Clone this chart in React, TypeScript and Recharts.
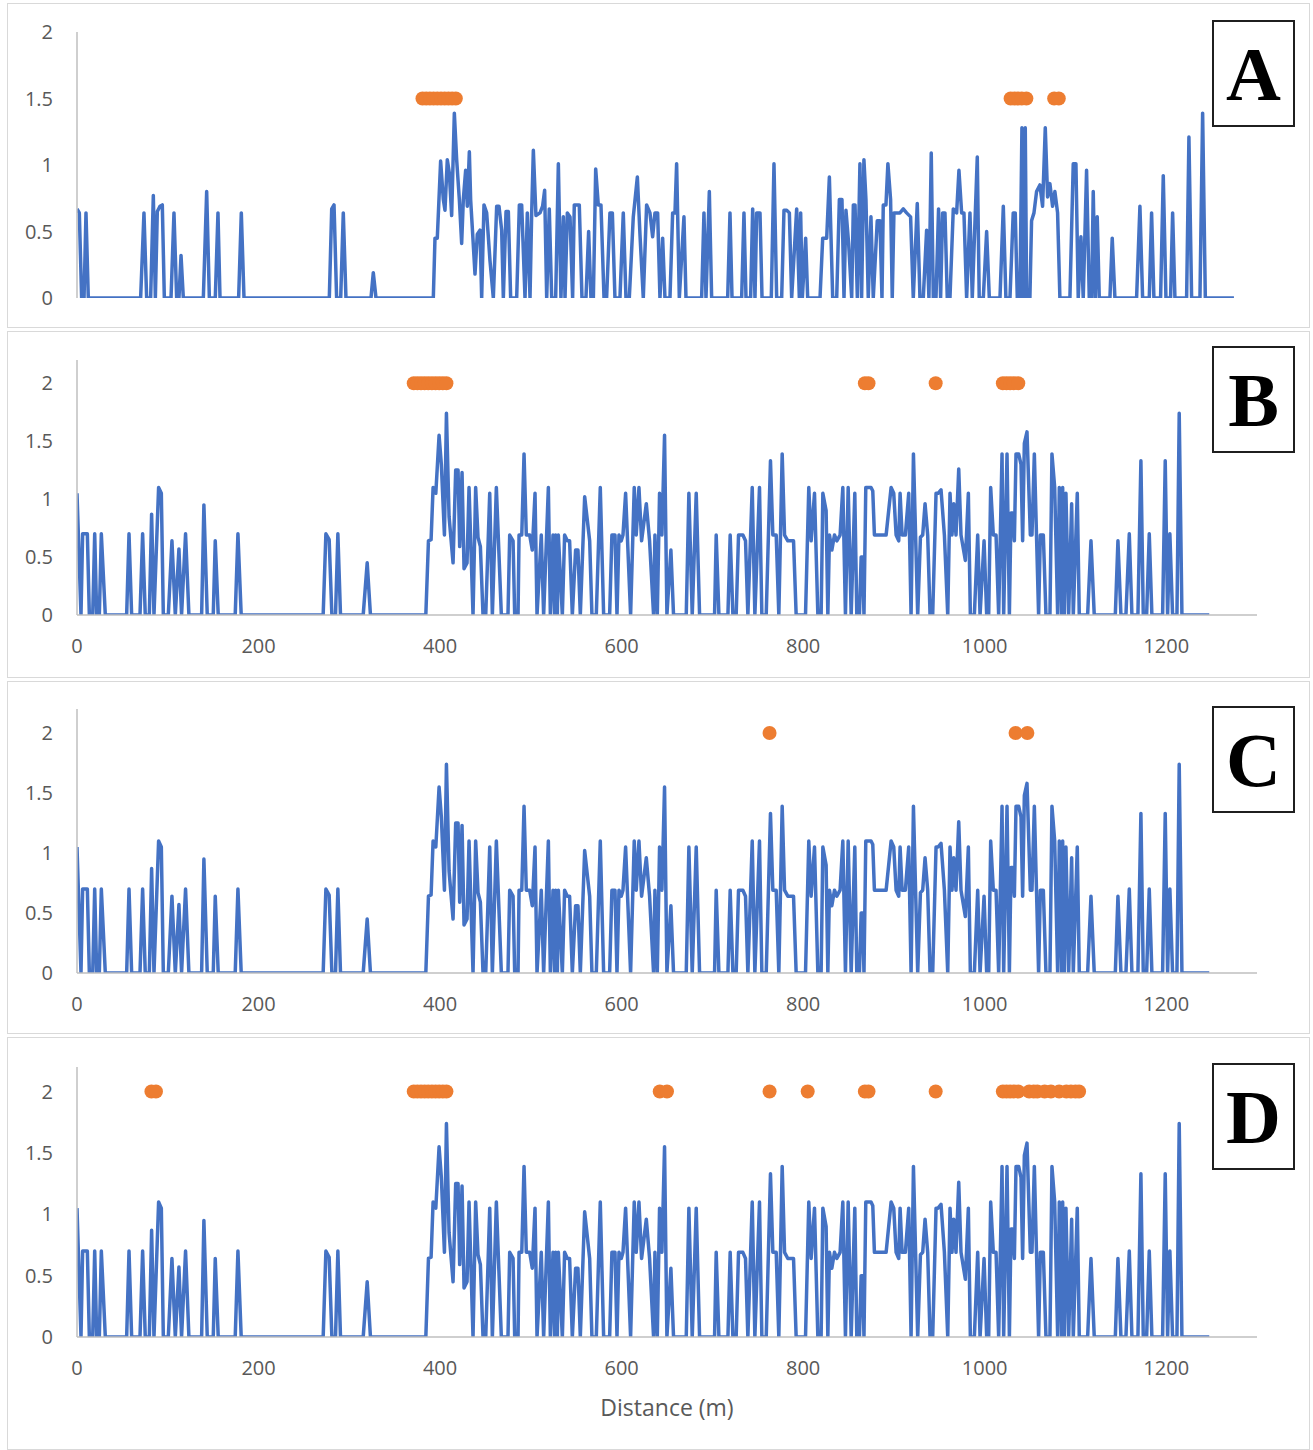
import React from "react";
import { ComposedChart, Line, Scatter, XAxis, YAxis } from "recharts";

const profileA: [number, number][] = [
  [0, 0.67], [2.5, 0.64], [5, 0], [7.6, 0], [9.7, 0.64], [12.2, 0], [68.7, 0], [72.3, 0.64], [75.2, 0],
  [79.5, 0], [82.4, 0.77], [84.6, 0], [86.7, 0.65], [89.6, 0.69], [92.1, 0.7], [94.3, 0], [101.5, 0],
  [104.7, 0.64], [107.6, 0], [110.1, 0], [112.3, 0.32], [114.8, 0], [136.4, 0], [140, 0.8], [142.9, 0],
  [149.3, 0], [152.2, 0.64], [154.4, 0], [174.5, 0], [177.4, 0.64], [180.3, 0], [272.4, 0], [275, 0.67],
  [277.5, 0.7], [280.3, 0], [284.7, 0], [287.5, 0.64], [290.4, 0], [317.4, 0], [319.9, 0.19], [322.8, 0],
  [384.7, 0], [386.5, 0.45], [389, 0.45], [392.6, 1.03], [395.5, 0.74], [397.3, 0.66], [399.8, 1.04],
  [402, 0.94], [404.5, 0.62], [407.4, 1.39], [409.9, 1.04], [412.8, 0.74], [415.3, 0.41], [417.1, 0.74],
  [419.6, 0.96], [421.4, 0.69], [423.6, 1.1], [425, 0.74], [427.2, 0.48], [429.7, 0.18], [432.2, 0.48],
  [435.1, 0.51], [436.9, 0], [439.4, 0.7], [442.3, 0.64], [445.9, 0.28], [449.5, 0], [453.1, 0.69],
  [455.6, 0.69], [458.5, 0.51], [460.3, 0], [463.2, 0.65], [465.7, 0.65], [468.2, 0], [474.7, 0],
  [477.6, 0.7], [480.1, 0.7], [483.7, 0], [486.2, 0.64], [489.1, 0], [490.9, 0.64], [492.7, 1.11],
  [495.5, 0.62], [499.9, 0.64], [502.7, 0.69], [504.9, 0.81], [507.1, 0], [509.9, 0.67], [512.5, 0],
  [516.8, 0], [519.7, 1.01], [522.5, 0], [525.1, 0.61], [526.9, 0], [529.4, 0.64], [532.3, 0.61],
  [535.1, 0], [536.9, 0.7], [542.3, 0.7], [545.2, 0], [549.5, 0], [552.4, 0.5], [554.9, 0], [557.5, 0],
  [560, 0.97], [562.8, 0.7], [565.7, 0.7], [569, 0], [571.8, 0], [575.4, 0.64], [578, 0.64], [580.8, 0],
  [586.2, 0], [589.8, 0.64], [592.7, 0], [596.3, 0], [600.6, 0.61], [605, 0.91], [607.8, 0.48],
  [611.4, 0], [615, 0.7], [618.6, 0.64], [621.5, 0.46], [624, 0.64], [626.9, 0.64], [629.4, 0],
  [632.3, 0.45], [634.8, 0], [640.2, 0], [643.1, 0.64], [645.6, 0.64], [647.4, 1.01], [650.3, 0],
  [655.3, 0.61], [657.5, 0], [674.4, 0], [676.9, 0.64], [679.1, 0], [682.7, 0.8], [685.2, 0], [702.5, 0],
  [705, 0.64], [707.2, 0], [717.6, 0], [720.1, 0.64], [722.3, 0], [727.3, 0], [729.5, 0.67], [732, 0],
  [733.8, 0.64], [737.4, 0.64], [739.6, 0], [749.6, 0], [752.5, 1.01], [755.4, 0], [760.8, 0],
  [763.3, 0.66], [766.2, 0.66], [769.1, 0.64], [771.6, 0], [777, 0.67], [779.9, 0], [781.3, 0.64],
  [783.1, 0], [786.7, 0.45], [788.9, 0], [802.2, 0], [805.1, 0.45], [809.4, 0.45], [812.3, 0.91],
  [815.9, 0], [820.2, 0], [823.1, 0.74], [825.9, 0.74], [828.1, 0], [830.2, 0.66], [833.1, 0.41],
  [836.4, 0], [838.2, 0.7], [840, 0.7], [842.5, 0], [845.3, 1.01], [847.1, 0], [849.6, 1.04],
  [851.8, 0.74], [854.3, 0], [857.2, 0.61], [859.7, 0], [864, 0.58], [866.9, 0.58], [869.1, 0],
  [870.5, 0.7], [873.4, 0.7], [875.5, 1.01], [878.4, 0.74], [880.2, 0], [882, 0.64], [888.5, 0.64],
  [892.1, 0.67], [895.7, 0.64], [900, 0.61], [902.9, 0], [907.2, 0.71], [910.1, 0], [913.7, 0],
  [917.3, 0.51], [919.8, 0], [922.3, 1.09], [924.5, 0], [927.4, 0], [930.2, 0.67], [932.4, 0],
  [934.6, 0.64], [937.1, 0.64], [939.6, 0], [942.5, 0], [946.1, 0.67], [949.7, 0.64], [952.2, 0.96],
  [955.1, 0.64], [957.6, 0.64], [960.5, 0], [964.1, 0.64], [966.6, 0], [972, 1.06], [974.1, 0],
  [978.5, 0], [982.1, 0.5], [985, 0], [996.5, 0], [1000.1, 0.69], [1002.9, 0], [1007.3, 0],
  [1010.8, 0.64], [1013, 0.64], [1015.2, 0], [1018, 0], [1020.2, 1.28], [1021.6, 0], [1023.8, 1.28],
  [1025.3, 0], [1028.8, 0], [1030.6, 0.58], [1033.2, 0.64], [1036, 0.8], [1039.6, 0.85], [1042.5, 0.69],
  [1045.4, 1.28], [1047.9, 0.76], [1050.4, 0.86], [1053.3, 0.69], [1055.8, 0.8], [1058.7, 0.64],
  [1061.2, 0], [1072, 0], [1075.6, 1.01], [1078.5, 1.01], [1081, 0], [1083.9, 0.46], [1086.4, 0],
  [1090, 0.96], [1092.9, 0], [1095.4, 0], [1097.2, 0.8], [1099.4, 0], [1101.5, 0.61], [1103.7, 0],
  [1115.2, 0], [1117.7, 0.45], [1120.6, 0], [1144, 0], [1147.6, 0.69], [1150.5, 0], [1157.7, 0],
  [1160.2, 0.64], [1162.7, 0], [1169.9, 0], [1172.8, 0.92], [1175.7, 0], [1180.7, 0], [1182.9, 0.64],
  [1185.4, 0], [1198, 0], [1200.5, 1.21], [1203.4, 0], [1212.4, 0], [1215.3, 1.39], [1218.2, 0],
  [1249.1, 0],
];

// blue trace shared by panels B, C and D
const profileBCD: [number, number][] = [
  [0, 1.05], [4.4, 0], [6.2, 0.7], [11.4, 0.7], [13.6, 0], [17.3, 0], [19.5, 0.7], [21.7, 0], [24.6, 0],
  [26.8, 0.7], [31.2, 0], [54.7, 0], [57.3, 0.7], [60.2, 0], [69.4, 0], [72.3, 0.7], [75.2, 0], [79.7, 0],
  [82.2, 0.87], [84.8, 0], [89.9, 1.1], [92.9, 1.05], [95.1, 0], [100.6, 0], [104.6, 0.64], [108.3, 0],
  [112.3, 0.57], [115.2, 0], [119.6, 0.7], [123.3, 0], [137.3, 0], [139.8, 0.95], [143.5, 0], [150.1, 0],
  [152.3, 0.64], [155.6, 0], [174.3, 0], [177.3, 0.7], [180.9, 0], [271.2, 0], [274.2, 0.7], [277.8, 0.65],
  [280.8, 0], [284.8, 0], [287.4, 0.7], [290.3, 0], [315.3, 0], [319.7, 0.45], [323.3, 0], [384.3, 0],
  [387.2, 0.64], [390.1, 0.65], [392.3, 1.1], [395.3, 1.05], [398.9, 1.55], [401.4, 1.3], [404.8, 0.69],
  [407, 1.74], [409.9, 0.85], [414.3, 0.45], [417.2, 1.25], [419.8, 1.25], [421.6, 0.59], [424.2, 1.23],
  [426.4, 0.4], [429.7, 0.45], [431.9, 1.1], [436.3, 0], [439.2, 1.1], [441.8, 0.67], [444.4, 0.59],
  [447.3, 0], [450.3, 0], [454.7, 1.05], [457.6, 0], [462, 1.1], [467.5, 0], [474.8, 0], [476.7, 0.69],
  [480.4, 0.64], [482.2, 0], [485.9, 0], [487, 0.69], [490, 0.69], [492.5, 1.39], [495, 0.69],
  [498.7, 0.69], [501.6, 0.56], [504.6, 1.05], [506.8, 0], [511.5, 0.69], [514.1, 0], [519.3, 1.1],
  [521.5, 0], [524.4, 0.69], [526.2, 0], [527.3, 0.69], [529.2, 0], [530.3, 0.69], [534.7, 0],
  [537.2, 0.69], [540.2, 0.64], [542.7, 0.64], [545.7, 0], [549.3, 0.56], [551.9, 0.56], [554.5, 0],
  [559.3, 1.02], [564.8, 0.64], [567.3, 0], [572.1, 0], [576.5, 1.1], [580.2, 0], [586.8, 0],
  [589.3, 0.69], [592.7, 0.69], [594.9, 0], [597.1, 0.69], [599.6, 0.64], [601.5, 0.69], [604.4, 1.05],
  [609.9, 0], [613.9, 1.1], [616.1, 0.69], [619.1, 1.1], [622, 0.64], [627.2, 0.96], [630.8, 0.64],
  [635.2, 0], [636.7, 0.69], [639.3, 0], [641.8, 1.05], [644.4, 0.69], [647.3, 1.55], [649.9, 0],
  [654.3, 0.56], [657.2, 0], [671.2, 0], [674.1, 1.05], [677.8, 0], [682.2, 1.05], [685.9, 0], [702.4, 0],
  [704.2, 0.69], [707.2, 0], [717.1, 0], [719.6, 0.69], [722.6, 0], [726.2, 0], [728.8, 0.69],
  [733.6, 0.69], [736.5, 0.64], [739.1, 0], [743.9, 1.1], [746.8, 0], [751.9, 1.1], [754.5, 0],
  [759.3, 0], [764, 1.33], [766.6, 0.69], [770.3, 0.69], [773.2, 0], [776.9, 1.39], [779.5, 0.69],
  [783.1, 0.64], [789.4, 0.64], [792.3, 0], [802.6, 0], [806.2, 1.1], [808.8, 0.64], [812.5, 1.05],
  [816.2, 0], [819.8, 0], [821.7, 1.05], [825.3, 0.9], [827.2, 0], [829, 0.69], [831.6, 0.56],
  [834.5, 0.69], [837.1, 0.64], [840.7, 0.69], [843.7, 1.1], [846.6, 0], [849.6, 1.1], [852.9, 0],
  [856.9, 1.05], [859.1, 0], [862, 0], [863.9, 0.5], [865.5, 0.5], [867, 0], [869, 1.1], [874.8, 1.1],
  [876.7, 1.07], [878.5, 0.69], [891.4, 0.69], [896.9, 1.1], [899.8, 1.05], [902.4, 0.69], [905.3, 0.64],
  [906.8, 1.05], [909, 0.69], [912.6, 0.69], [916.3, 1.05], [918.9, 0], [921.5, 1.39], [926.2, 0],
  [929.2, 0.67], [931.7, 0.69], [934.3, 0.96], [937.2, 0.69], [939.8, 0], [942.7, 0], [946.4, 1.05],
  [948.6, 1.05], [951.9, 1.08], [955.6, 0.69], [959.3, 0], [961.8, 1.05], [964, 0.69], [965.9, 0.96],
  [968.4, 0.69], [971.4, 1.26], [973.9, 0.69], [978.7, 0.47], [982, 1.05], [984.2, 0], [988.6, 0],
  [992.3, 0.69], [994.9, 0], [999.3, 0.64], [1002.2, 0], [1004.4, 0], [1006.6, 1.1], [1009.5, 0.69],
  [1012.5, 0.69], [1015.4, 0], [1019.1, 1.39], [1020.9, 0], [1024.6, 1.39], [1027.2, 0], [1029, 0.88],
  [1030.8, 0.88], [1032.7, 0.64], [1034.5, 1.39], [1037.4, 1.39], [1040, 1.3], [1041.8, 0.64],
  [1043.7, 1.48], [1046.6, 1.58], [1050.3, 0.69], [1052.1, 0.69], [1054.7, 1.39], [1059.4, 0],
  [1061.3, 0.69], [1064.6, 0.69], [1067.5, 0], [1071.9, 0], [1074.1, 1.39], [1077.1, 1.1], [1080.4, 0],
  [1082.2, 1.1], [1084.8, 0], [1085.9, 1.1], [1087.7, 0], [1089.5, 1.05], [1092.5, 0], [1095.8, 0.96],
  [1097.6, 0], [1102, 1.05], [1104.2, 0], [1113.4, 0], [1117.1, 0.64], [1120.7, 0], [1143.9, 0],
  [1146.8, 0.64], [1150.1, 0], [1155.6, 0], [1159.3, 0.7], [1162.2, 0], [1168.8, 0], [1172.1, 1.33],
  [1174.7, 0], [1178.4, 0], [1181.3, 0.7], [1184.2, 0], [1196, 0], [1198.9, 1.33], [1201.5, 0],
  [1204, 0.7], [1207, 0], [1211.8, 0], [1214.3, 1.74], [1217.3, 0], [1247.4, 0],
];

// orange markers: distances (m), drawn at a fixed level per panel
const markersA = [373, 377, 381, 385, 389, 393, 397, 401, 405, 409, 1008, 1012, 1016, 1020, 1025, 1055, 1060];
const markersB = [371, 375, 379, 383, 387, 391, 395, 399, 403, 407, 868, 872, 946, 1020, 1024, 1028, 1032, 1037];
const markersC = [763, 1034, 1047];
const markersD = [
  82, 87, 371, 375, 379, 383, 387, 391, 395, 399, 403, 407, 642, 650, 763, 805, 868, 872, 946,
  1020, 1024, 1028, 1032, 1037, 1049, 1054, 1058, 1066, 1073, 1082, 1090, 1095, 1100, 1104,
];

const xTicks = [0, 200, 400, 600, 800, 1000, 1200];
const yTicks = [0, 0.5, 1, 1.5, 2];

const BLUE = "#4472C4";
const ORANGE = "#ED7D31";
const AXIS = "#BFBFBF";
const TEXT = "#595959";
const FONT = "'Open Sans', 'Noto Sans', sans-serif";

const toPoints = (rows: [number, number][]) => rows.map(([x, y]) => ({ x, y }));
const toMarkers = (xs: number[], level: number) => xs.map((x) => ({ x, y: level }));

const panels = [
  { label: "A", top: 3, height: 325, plotTop: 32, plotBottom: 298, yMax: 2, xMax: 1274, axisH: 0, line: profileA, marks: markersA, level: 1.5, boxTop: 20 },
  { label: "B", top: 331, height: 347, plotTop: 360, plotBottom: 615, yMax: 2.2, xMax: 1300, axisH: 40, line: profileBCD, marks: markersB, level: 2, boxTop: 346 },
  { label: "C", top: 681, height: 353, plotTop: 709, plotBottom: 973, yMax: 2.2, xMax: 1300, axisH: 40, line: profileBCD, marks: markersC, level: 2, boxTop: 706 },
  { label: "D", top: 1037, height: 413, plotTop: 1067, plotBottom: 1337, yMax: 2.2, xMax: 1300, axisH: 79, line: profileBCD, marks: markersD, level: 2, boxTop: 1063 },
];

function Panel({ p }: { p: (typeof panels)[number] }) {
  const tick = { fill: TEXT, fontSize: 20, fontFamily: FONT };
  return (
    <>
      <div
        style={{
          position: "absolute",
          left: 7,
          top: p.top,
          width: 1303,
          height: p.height,
          boxSizing: "border-box",
          border: "1px solid #D9D9D9",
          background: "#fff",
        }}
      />
      <div style={{ position: "absolute", left: 0, top: p.top }}>
        <ComposedChart
          width={1313}
          height={p.height}
          margin={{
            top: p.plotTop - p.top,
            right: 56,
            left: 17,
            bottom: p.top + p.height - p.plotBottom - p.axisH,
          }}
        >
          <XAxis
            dataKey="x"
            type="number"
            domain={[0, p.xMax]}
            ticks={xTicks}
            allowDataOverflow
            hide={p.label === "A"}
            height={p.axisH || 30}
            axisLine={{ stroke: AXIS, strokeWidth: 1.5 }}
            tickLine={false}
            tickSize={0}
            tickMargin={24}
            tick={tick}
            label={
              p.label === "D"
                ? { value: "Distance (m)", position: "insideBottom", offset: 0, fill: TEXT, fontSize: 23, fontFamily: FONT }
                : undefined
            }
          />
          <YAxis
            dataKey="y"
            type="number"
            domain={[0, p.yMax]}
            ticks={yTicks}
            width={60}
            allowDataOverflow
            axisLine={{ stroke: AXIS, strokeWidth: 1.5 }}
            tickLine={false}
            tickSize={0}
            tickMargin={24}
            tick={tick}
          />
          <Line
            data={toPoints(p.line)}
            dataKey="y"
            type="linear"
            stroke={BLUE}
            strokeWidth={3.5}
            strokeLinejoin="round"
            dot={false}
            activeDot={false}
            isAnimationActive={false}
          />
          <Scatter
            data={toMarkers(p.marks, p.level)}
            dataKey="y"
            isAnimationActive={false}
            shape={(s: any) => <circle cx={s.cx} cy={s.cy} r={7} fill={ORANGE} />}
          />
        </ComposedChart>
      </div>
      <div
        style={{
          position: "absolute",
          left: 1212,
          top: p.boxTop,
          width: 83,
          height: 107,
          boxSizing: "border-box",
          border: "2px solid #1f1f1f",
          background: "#fff",
          display: "flex",
          alignItems: "center",
          justifyContent: "center",
          fontFamily: "'Liberation Serif', 'DejaVu Serif', serif",
          fontWeight: 700,
          fontSize: 76,
          color: "#000",
          lineHeight: 1,
        }}
      >
        {p.label}
      </div>
    </>
  );
}

export default function App() {
  return (
    <div style={{ position: "absolute", left: 0, top: 0, width: 1313, height: 1450, background: "#fff", overflow: "hidden" }}>
      {panels.map((p) => (
        <Panel key={p.label} p={p} />
      ))}
    </div>
  );
}
